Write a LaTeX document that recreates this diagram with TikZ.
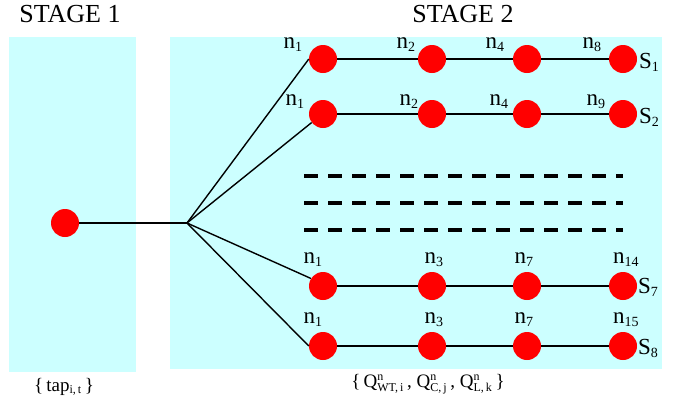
\documentclass[tikz,border=0pt]{standalone}
\usepackage{fontspec}
\setmainfont{Liberation Serif}
\definecolor{boxcyan}{RGB}{204,255,255}
\definecolor{dotred}{RGB}{255,0,0}
\newcommand\sbx[2]{\ensuremath{_{\hbox{\fontsize{#1}{#1}\selectfont #2}}}}
\newcommand\spsb[3]{\ensuremath{^{\hbox{\fontsize{#1}{#1}\selectfont #2}}_{\hbox{\fontsize{#1}{#1}\selectfont #3}}}}
\begin{document}
\begin{tikzpicture}[x=1pt,y=-1pt,
  stagebox/.style={fill=boxcyan,draw=none},
  dot/.style={circle,fill=dotred,draw=none,minimum size=28pt,inner sep=0pt},
  link/.style={line width=1.4pt,black},
  sep/.style={line width=3.3pt,dash pattern=on 14pt off 10pt},
  title/.style={font=\fontsize{26}{28}\selectfont,anchor=center},
  lab/.style={font=\fontsize{23}{25}\selectfont,anchor=base,inner sep=0pt},
  slab/.style={font=\fontsize{23}{25}\selectfont,anchor=base west,inner sep=0pt},
  blab/.style={font=\fontsize{19}{21}\selectfont,anchor=base,inner sep=0pt}]
\useasboundingbox (0,0) rectangle (688,402);
% boxes
\fill[stagebox] (9,37) rectangle (136,372);
\fill[stagebox] (170,37) rectangle (662,369);
% titles
\node[title] (t1) at (70,14) {STAGE 1};
\node[title] (t2) at (463,14) {STAGE 2};
% stage 1 node and fan
\node[dot] (s0) at (65,223) {};
\coordinate (fan) at (187,223);
% rows
\foreach \r/\y in {a/59,b/114,c/286,d/346}{
  \node[dot] (\r1) at (323,\y) {};
  \node[dot] (\r2) at (432,\y) {};
  \node[dot] (\r3) at (527,\y) {};
  \node[dot] (\r4) at (623,\y) {};
}
% connectors
\foreach \r in {a,b,c,d}{
  \draw[link] (\r1) -- (\r2) -- (\r3) -- (\r4);
}
\draw[link] (s0) -- (fan);
\draw[link] (fan) -- (a1.180);
\draw[link] (fan) -- (b1.217);
\draw[link] (fan) -- (c1.148);
\draw[link] (fan) -- (d1.180);
% dashed separators
\coordinate (d1s) at (304,176); \coordinate (d1e) at (623,176);
\coordinate (d2s) at (304,203); \coordinate (d2e) at (623,203);
\coordinate (d3s) at (304,230); \coordinate (d3e) at (623,230);
\draw[sep] (d1s) -- (d1e);
\draw[sep] (d2s) -- (d2e);
\draw[sep] (d3s) -- (d3e);
% labels row a
\node[lab] (la1) at (293,48) {n\sbx{14}{1}};
\node[lab] (la2) at (406,48) {n\sbx{14}{2}};
\node[lab] (la3) at (495,48) {n\sbx{14}{4}};
\node[lab] (la4) at (592,48) {n\sbx{14}{8}};
\node[slab] (sa) at (639,68) {S\sbx{14}{1}};
% row b
\node[lab] (lb1) at (295,105) {n\sbx{14}{1}};
\node[lab] (lb2) at (409,105) {n\sbx{14}{2}};
\node[lab] (lb3) at (499,105) {n\sbx{14}{4}};
\node[lab] (lb4) at (596,105) {n\sbx{14}{9}};
\node[slab] (sb) at (639,123) {S\sbx{14}{2}};
% row c
\node[lab] (lc1) at (313,263) {n\sbx{14}{1}};
\node[lab] (lc2) at (434,263) {n\sbx{14}{3}};
\node[lab] (lc3) at (524,263) {n\sbx{14}{7}};
\node[lab] (lc4) at (626,263) {n\sbx{14}{14}};
\node[slab] (sc) at (638,293) {S\sbx{14}{7}};
% row d
\node[lab] (ld1) at (313,323) {n\sbx{14}{1}};
\node[lab] (ld2) at (434,323) {n\sbx{14}{3}};
\node[lab] (ld3) at (524,323) {n\sbx{14}{7}};
\node[lab] (ld4) at (626,323) {n\sbx{14}{15}};
\node[slab] (sd) at (638,354) {S\sbx{14}{8}};
% bottom labels
\node[blab] (b1) at (64,391) {\{\,tap\sbx{12}{i,\,t}\,\}};
\node[blab] (b2) at (428,387) {\{\,Q\spsb{12}{n}{WT,\,i}\,, Q\spsb{12}{n}{C,\,j}\,, Q\spsb{12}{n}{L,\,k}\,\}};
\end{tikzpicture}
\end{document}
